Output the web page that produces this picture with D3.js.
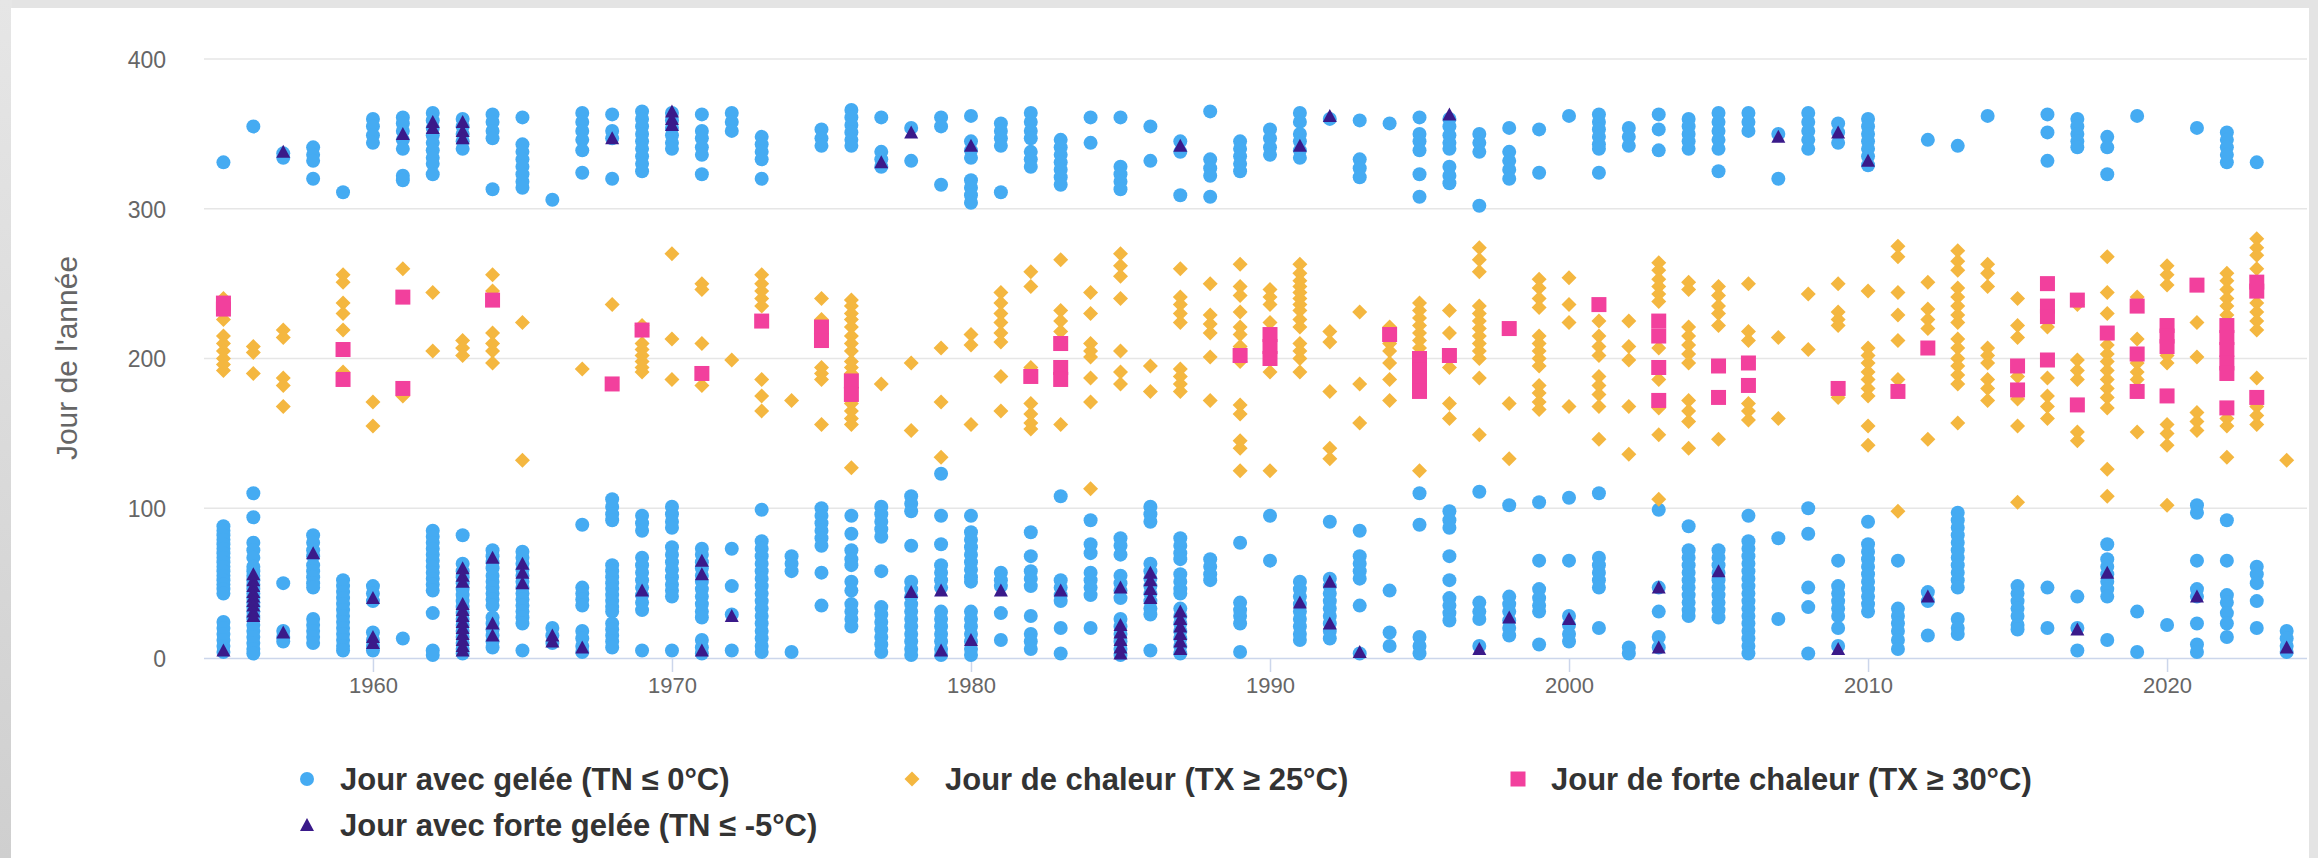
<!DOCTYPE html>
<html><head><meta charset="utf-8">
<script src="https://cdn.jsdelivr.net/npm/d3@7"></script>
<style>
body{margin:0;background:#e6e6e6;}
svg{display:block;font-family:"Liberation Sans",Arial,Helvetica,sans-serif;}
</style>
</head><body><svg id="c" width="2318" height="858"></svg>
<script>
const years = [1955,1956,1957,1958,1959,1960,1961,1962,1963,1964,1965,1966,1967,1968,1969,1970,1971,1972,1973,1974,1975,1976,1977,1978,1979,1980,1981,1982,1983,1984,1985,1986,1987,1988,1989,1990,1991,1992,1993,1994,1995,1996,1997,1998,1999,2000,2001,2002,2003,2004,2005,2006,2007,2008,2009,2010,2011,2012,2013,2014,2015,2016,2017,2018,2019,2020,2021,2022,2023,2024];

// Jour avec gelée (TN ≤ 0°C) — day of year, one list per year
const gelee = [
[331,88,85,82,79,76,73,70,67,64,61,58,55,52,49,46,43,24,20,16,12,8,4],
[355,110,94,77,72,67,61,58,55,52,49,46,43,40,37,34,31,28,26,22,18,14,10,6,3],
[334,337,50,18,14,11],
[341,336,332,320,82,77,72,68,62,58,54,50,47,26,22,18,14,10],
[311,52,48,44,40,36,32,28,24,20,16,12,8,5],
[360,355,349,344,48,43,38,17,12,8,5],
[361,357,352,346,340,322,319,13],
[364,359,354,349,344,339,334,330,323,85,81,77,73,69,65,61,57,53,49,45,30,5,2],
[360,355,350,345,340,82,63,58,54,50,46,42,38,34,30,26,22,18,14,10,6,3],
[363,358,352,347,313,72,68,64,60,55,51,47,43,39,35,27,23,19,15,11,7],
[361,343,338,333,328,323,318,314,71,67,63,59,55,51,47,43,39,35,31,27,23,5],
[306,20,15,10],
[364,358,352,346,339,324,89,47,43,39,35,18,13,8,4],
[363,352,347,320,106,101,96,92,62,58,54,50,46,42,38,34,31,23,19,15,11,7],
[365,360,355,350,345,340,335,330,325,95,90,85,67,62,57,52,47,42,37,32,5],
[364,359,354,349,344,340,101,96,91,87,74,69,64,59,54,49,45,41,5],
[363,352,347,341,336,323,73,69,64,60,55,51,46,41,36,31,27,12,7,3],
[364,358,352,73,48,29,5],
[348,343,338,333,320,99,78,73,68,63,58,53,48,43,38,33,28,23,18,13,8,4],
[68,63,58,4],
[353,347,342,100,95,90,85,80,75,57,35],
[366,361,356,351,346,342,95,83,72,66,62,51,45,36,31,26,21],
[361,338,333,328,101,96,91,86,81,58,34,29,24,19,14,9,4],
[354,332,108,103,98,75,51,46,41,36,31,26,21,16,11,6,2],
[361,355,316,123,95,76,62,57,52,47,31,26,21,16,11,6,2],
[362,345,339,334,319,314,309,304,95,84,79,74,69,64,59,54,51,31,26,21,16,11,6,2],
[357,352,347,342,311,57,52,48,30,12],
[364,358,352,347,338,333,328,84,68,58,53,48,28,16,11,6],
[346,341,336,331,326,321,316,108,52,47,42,38,20,3],
[361,344,92,76,70,57,52,47,42,20],
[361,328,323,318,313,80,75,69,55,50,45,40,26,21,16,11,6,2],
[355,332,101,96,91,63,58,53,48,43,38,33,29,5],
[345,338,309,80,75,70,66,56,51,46,43,33,28,23,18,13,8,3],
[365,333,327,322,308,66,61,56,52],
[345,340,335,330,325,77,37,32,28,23,4],
[353,347,341,336,95,65],
[364,358,350,345,339,334,51,46,41,36,31,26,21,16,12],
[360,91,53,48,43,38,33,28,23,18,13],
[359,333,327,321,85,68,63,58,53,35,3],
[357,45,17,8],
[361,350,345,339,323,308,110,89,14,8,3],
[360,355,349,344,340,328,322,317,98,92,87,68,52,40,35,30,25],
[350,344,338,302,111,37,31,26,8],
[354,338,332,326,320,102,41,36,31,25,20,15],
[353,324,104,65,46,40,35,31,9],
[362,107,65,28,22,16,11],
[363,358,353,348,343,340,324,110,67,62,57,52,47,20],
[354,348,342,7,3],
[363,353,339,99,47,31,14,7],
[360,355,350,345,340,88,72,67,62,57,52,47,42,37,32,28],
[364,358,352,346,340,325,72,67,62,57,52,47,42,37,32,27],
[364,358,352,95,78,73,68,63,58,53,48,43,38,33,28,23,18,13,8,3],
[350,320,80,26],
[364,358,352,346,340,100,83,47,34,3],
[357,351,344,65,48,43,38,33,28,20,8],
[360,355,350,345,340,335,329,91,76,71,66,61,56,51,46,41,36,31],
[65,33,28,23,18,12,6],
[346,44,38,15],
[342,97,92,87,82,77,72,67,62,57,52,47,26,20,16],
[362],
[48,43,38,33,28,22,19],
[363,351,332,47,20],
[360,355,350,345,341,41,20,5],
[348,341,323,76,66,61,56,51,46,41,12],
[362,31,4],
[22],
[354,102,97,65,46,41,23,9,4],
[351,346,341,336,331,92,65,42,37,30,23,14],
[331,61,56,50,38,20],
[18,13,8,4]
];

// Jour de chaleur (TX ≥ 25°C)
const chaleur = [
[240,231,226,215,210,205,200,196,192],
[208,204,190],
[219,214,187,182,168],
[],
[256,251,237,230,219,191],
[171,155],
[260,175],
[244,205],
[212,207,202],
[256,245,217,210,205,197],
[224,132],
[],
[193],
[236],
[222,210,206,202,198,194,191],
[270,213,186],
[250,246,210,182],
[199],
[256,250,245,240,235,186,175,165],
[172],
[240,226,194,190,186,156],
[239,235,230,226,221,215,210,205,198,194,190,170,165,160,156,127],
[183],
[197,152],
[207,171,134],
[216,209,156],
[244,237,230,224,217,211,188,165],
[258,248,194,170,163,157,153],
[266,232,225,218,156],
[244,230,210,205,201,187,171,113],
[270,262,255,240,205,191,183],
[195,178],
[260,241,236,230,224,193,188,183,178],
[250,229,223,217,201,172],
[263,248,242,231,221,216,208,198,169,163,145,140,125],
[246,241,236,224,191,125],
[263,257,252,248,244,240,236,232,226,221,210,205,200,191],
[218,211,178,140,133],
[231,183,157],
[221,210,205,197,186,172],
[237,232,227,222,217,212,207,125],
[232,217,194,170,160],
[274,266,258,235,230,225,220,215,210,205,200,187,149],
[170,133],
[253,247,240,234,215,210,205,200,195,182,177,171,166],
[254,236,224,168],
[225,215,208,202,188,182,176,168,146],
[225,208,199,168,136],
[264,259,253,248,243,238,207,186,167,149,106],
[251,246,221,215,209,203,197,172,165,158,140],
[248,242,235,230,222,146],
[250,218,212,170,165,159],
[214,160],
[243,206],
[250,231,226,222,174],
[245,207,202,197,191,186,180,175,155,142],
[275,268,244,229,212,186,98],
[251,233,226,220,146],
[272,265,259,247,241,235,229,224,213,207,200,195,189,183,157],
[263,257,248,207,202,197,186,180,172],
[240,222,214,188,173,155,104],
[221,187,175,168,160],
[236,199,192,186,151,145],
[268,244,230,209,203,198,192,186,180,174,167,126,108],
[241,213,197,191,186,151],
[262,256,249,202,197,156,150,142,102],
[224,201,164,158,152],
[257,252,246,240,235,229,160,155,134],
[280,274,269,260,237,231,225,219,187,168,162,156],
[132]
];

// Jour de forte chaleur (TX ≥ 30°C)
const forteChaleur = [
[233,237],[],[],[],[206,186],[],[241,180],[],[],[239],
[],[],[],[183],[219],[],[190],[],[225],[],
[221,212],[185,176],[],[],[],[],[],[188],[210,194,186],[],
[],[],[],[],[202],[216,208,200],[],[],[],[216],
[200,192,185,178],[202],[],[220],[],[],[236],[],[225,215,194,172],[],
[195,174],[197,182],[],[],[180],[],[178],[207],[],[],
[195,179],[250,235,228,199],[239,169],[217],[235,203,178],[222,215,208,175],[249],[222,214,206,197,190,167],[251,245,174],[]
];

// Jour avec forte gelée (TN ≤ -5°C)
const forteGelee = [
[5],[56,52,48,44,41,38,35,31,28],[338,17],[70],[],[40,14,10],[350],[358,354],[358,352,347,60,55,51,36,32,28,24,20,16,12,8,5],[67,23,15],
[63,57,50],[15,11],[7],[347],[45],[365,360,356],[65,56,5],[28],[],[],
[],[],[331],[351,44],[45,5],[342,12],[45],[],[45],[],
[47,22,17,12,7,3],[57,52,46,40],[342,31,26,21,16,11,6],[],[],[],[342,37],[362,51,23],[4],[],
[],[363],[6],[27],[],[26],[],[],[47,7],[],
[58],[],[348],[],[351,6],[332],[],[41],[],[],
[],[],[19],[57],[],[],[41],[],[],[7]
];

const yTicks = [0,100,200,300,400];
const xTicks = [1960,1970,1980,1990,2000,2010,2020];
const seriesLabels = ["Jour avec gelée (TN ≤ 0°C)","Jour de chaleur (TX ≥ 25°C)","Jour de forte chaleur (TX ≥ 30°C)","Jour avec forte gelée (TN ≤ -5°C)"];
const yTitle = "Jour de l'année";

// ---- styles ----
const colors = ["#45abf2","#f4b740","#f2409d","#3a1a8a"];

const svg = d3.select("#c");
// card background
svg.append("rect").attr("x",0).attr("y",0).attr("width",2318).attr("height",858).attr("fill","#e4e4e4");
const grad = svg.append("defs").append("linearGradient").attr("id","lg").attr("x1",0).attr("y1",0).attr("x2",0).attr("y2",1);
grad.append("stop").attr("offset","0%").attr("stop-color","#e6e6e6");
grad.append("stop").attr("offset","100%").attr("stop-color","#cfcfcf");
svg.append("rect").attr("x",0).attr("y",0).attr("width",12).attr("height",858).attr("fill","url(#lg)");
svg.append("rect").attr("x",11).attr("y",8).attr("width",2298).attr("height",850).attr("fill","#ffffff");

const x = d3.scaleLinear().domain([1954.35, 2024.68]).range([204, 2307]);
const y = d3.scaleLinear().domain([0, 400]).range([658, 59]);

// gridlines
svg.append("g").selectAll("line").data(yTicks.filter(d=>d>0)).join("line")
  .attr("x1",204).attr("x2",2307).attr("y1",d=>y(d)).attr("y2",d=>y(d))
  .attr("stroke","#e6e6e6").attr("stroke-width",1.5);

// y axis labels
const yAxis = d3.axisLeft(y).tickValues(yTicks).tickSize(0).tickPadding(0).tickFormat(d3.format("d"));
const gy = svg.append("g").attr("transform","translate(166,0)").call(yAxis);
gy.select(".domain").remove();
gy.selectAll("text").attr("fill","#666").attr("font-size","23px").attr("font-family","Liberation Sans, Arial, sans-serif").attr("dy","0.36em");

// x axis
const xAxis = d3.axisBottom(x).tickValues(xTicks).tickSize(14).tickPadding(5).tickFormat(d3.format("d"));
const gx = svg.append("g").attr("transform","translate(0,658)").call(xAxis);
gx.select(".domain").attr("d","M204,0.5H2307").attr("stroke","#ccd6eb").attr("stroke-width",1.5);
gx.selectAll(".tick line").attr("stroke","#ccd6eb").attr("stroke-width",1.5);
gx.selectAll("text").attr("fill","#666").attr("font-size","22px").attr("font-family","Liberation Sans, Arial, sans-serif");

// y title
svg.append("text").attr("transform","translate(77,358) rotate(-90)").attr("text-anchor","middle")
  .attr("fill","#666").attr("font-size","30px").text(yTitle);

// symbols
const R = 7;
const shapes = [
  g => g.append("circle").attr("r", R),
  g => g.append("path").attr("d", `M0,${-R-0.5}L${R+0.5},0L0,${R+0.5}L${-R-0.5},0Z`),
  g => g.append("rect").attr("x",-7.5).attr("y",-7.5).attr("width",15).attr("height",15),
  g => g.append("path").attr("d", `M0,${-R}L${R},${R-1}L${-R},${R-1}Z`)
];
const seriesData = [gelee, chaleur, forteChaleur, forteGelee];
const plot = svg.append("g");
seriesData.forEach((ser, si) => {
  const pts = [];
  ser.forEach((vals, i) => vals.forEach(v => pts.push({yr: years[i], v})));
  const g = plot.append("g").attr("fill", colors[si]);
  g.selectAll("g").data(pts).join("g")
    .attr("transform", d => `translate(${x(d.yr)},${y(d.v)})`)
    .each(function(){ shapes[si](d3.select(this)); });
});

// legend
const legendPos = [[307,779],[912,779],[1518,779],[307,825]];
const lg = svg.append("g");
seriesLabels.forEach((lab, i) => {
  const [lx, ly] = legendPos[i];
  const item = lg.append("g").attr("transform", `translate(${lx},${ly})`);
  const s = item.append("g").attr("fill", colors[i]);
  shapes[i](s);
  item.append("text").attr("x", 33).attr("y", 11).attr("fill","#333").attr("font-weight","bold")
    .attr("font-size","31px").text(lab);
});
</script>
</body></html>
